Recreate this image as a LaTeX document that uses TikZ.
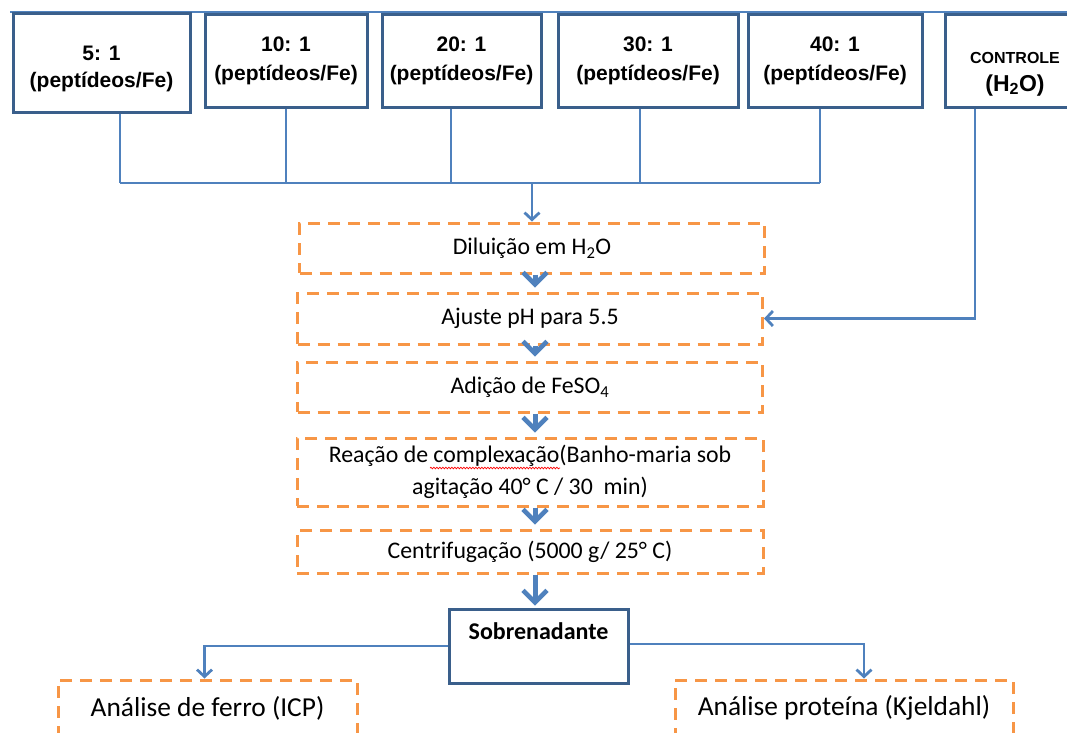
\documentclass[tikz,border=0pt]{standalone}
\usepackage{fontspec}
\setmainfont{Carlito}
\newfontfamily\arialfont{Liberation Sans}
\usetikzlibrary{arrows.meta,calc,decorations.pathmorphing}

\definecolor{linhaazul}{HTML}{4F81BD}
\definecolor{bordaazul}{HTML}{3A5F8B}
\definecolor{laranja}{HTML}{F79646}

\begin{document}
\begin{tikzpicture}[x=1pt,y=-1pt,
  razao/.style={draw=bordaazul,line width=3pt,fill=white,inner sep=0pt,align=center,
    font=\arialfont\bfseries\fontsize{21}{29}\selectfont},
  etapa/.style={draw=laranja,line width=3pt,dash pattern=on 12pt off 8pt,inner sep=0pt,
    align=center,font=\fontsize{23.8}{32}\selectfont},
  fino/.style={draw=linhaazul,line width=2.8pt},
  seta/.style={fino,-{Straight Barb[length=7pt,width=15pt]}},
  grossa/.style={draw=linhaazul,line width=5pt,-{Straight Barb[length=12pt,width=24pt,line width=4.5pt]}}]

  % 画像と同じ範囲 (1067 x 732)
  \clip (0,0) rectangle (1067,732);

  % 上の線
  \draw[fino] (10,12) -- (1067,12);

  % 比率の箱
  \node[razao,minimum width=177,minimum height=99,
    label={[yshift=-6pt,align=center,font=\arialfont\bfseries\fontsize{21}{27}\selectfont]center:%
      {5: 1\\(peptídeos/Fe)}}] (r5) at (101.5,62.5) {};
  \node[razao,minimum width=162,minimum height=93] (r10) at (286,61) {10: 1\\(peptídeos/Fe)};
  \node[razao,minimum width=159,minimum height=93] (r20) at (461.5,61) {20: 1\\(peptídeos/Fe)};
  \node[razao,minimum width=180,minimum height=93] (r30) at (648,61) {30: 1\\(peptídeos/Fe)};
  \node[razao,minimum width=174,minimum height=93] (r40) at (835,61) {40: 1\\(peptídeos/Fe)};
  \node[razao,minimum width=140,minimum height=93,
    label={[yshift=-13pt,align=center,font=\arialfont\bfseries]center:%
      {\fontsize{16}{19}\selectfont CONTROLE\\[10pt]\fontsize{23}{26}\selectfont (H\textsubscript{2}O)}}]
    (ctrl) at (1015,61) {};

  % 工程 (点線の箱)
  \node[etapa,minimum width=465,minimum height=50] (dil) at (532,248) {Diluição em H\textsubscript{2}O};
  \node[etapa,minimum width=465,minimum height=51] (aju) at (530,318.5) {Ajuste pH para 5.5};
  \node[etapa,minimum width=465,minimum height=50] (adi) at (530,387) {Adição de FeSO\textsubscript{4}};
  \node[etapa,minimum width=466,minimum height=68] (rea) at (530,472)
    {Reação de complexação(Banho-maria sob\\agitação 40° C / 30~ min)};
  \node[etapa,minimum width=466,minimum height=43] (cen) at (530,551.5) {Centrifugação (5000 g/ 25° C)};

  \node[razao,minimum width=179,text height=30.5pt,text depth=43.5pt,
    font=\bfseries\fontsize{24}{28}\selectfont] (sob) at (538.5,646) {Sobrenadante};

  \node[etapa,minimum width=299,minimum height=56,font=\fontsize{27.4}{30}\selectfont] (fe) at (207.5,708)
    {Análise de ferro (ICP)};
  \node[etapa,minimum width=338,minimum height=56,font=\fontsize{27.4}{30}\selectfont] (prot) at (844,708)
    {Análise proteína (Kjeldahl)};

  % 集合線
  \coordinate (j1) at (120,183);
  \coordinate (j2) at (286,183);
  \coordinate (j3) at (451,183);
  \coordinate (j4) at (640,183);
  \coordinate (j5) at (820,183);
  \coordinate (c1) at (975,0);
  \foreach \r/\j in {r5/j1,r10/j2,r20/j3,r30/j4,r40/j5}
    \draw[fino] (\j |- \r.south) -- (\j);
  \draw[fino] (j1) -- (j5);
  \draw[seta] (j1 -| dil.north) -- (dil.north);
  \draw[seta] (c1 |- ctrl.south) |- (aju.east);

  % 太い矢印
  \draw[grossa] ([xshift=3pt]dil.south) -- ([xshift=3pt,yshift=4pt]dil.south |- aju.north);
  \draw[grossa] ([xshift=5pt]aju.south) -- ([xshift=5pt,yshift=4pt]aju.south |- adi.north);
  \draw[grossa] ([xshift=5pt]adi.south) -- ([xshift=5pt,yshift=4pt]adi.south |- rea.north);
  \draw[grossa] ([xshift=5pt]rea.south) -- ([xshift=5pt,yshift=4pt]rea.south |- cen.north);
  \draw[grossa] ([xshift=5pt]cen.south) -- ([xshift=5pt,yshift=2pt]cen.south |- sob.north);

  % 分析へ
  \draw[seta] (sob.west) -| ([xshift=-3pt]fe.north);
  \draw[seta] ([yshift=2pt]sob.east) -| ([xshift=20pt]prot.north);

  % 赤い波線
  \draw[red,line width=0.7pt,decorate,decoration={snake,amplitude=0.8pt,segment length=3pt}]
    (430,468) -- (560,468);
\end{tikzpicture}
\end{document}
